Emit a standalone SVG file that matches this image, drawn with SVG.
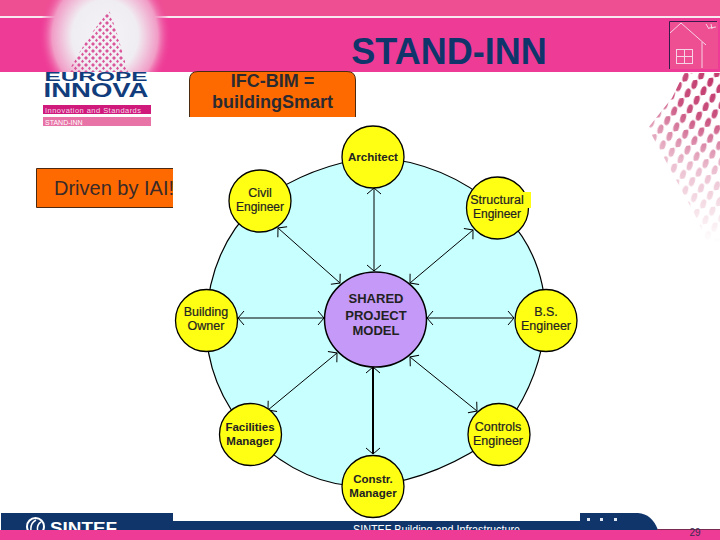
<svg xmlns="http://www.w3.org/2000/svg" width="720" height="540" viewBox="0 0 720 540">
<defs>
<radialGradient id="glow"><stop offset="0" stop-color="#f3f3f6"/><stop offset="0.5" stop-color="#f0edf2"/><stop offset="0.8" stop-color="#f19cc6"/><stop offset="1" stop-color="#ee3c96" stop-opacity="0"/></radialGradient>
<radialGradient id="fadeg" gradientUnits="userSpaceOnUse" cx="712" cy="78" r="165"><stop offset="0" stop-color="#fff"/><stop offset="0.25" stop-color="#ddd"/><stop offset="0.55" stop-color="#555"/><stop offset="1" stop-color="#000"/></radialGradient>
<mask id="fademask" maskUnits="userSpaceOnUse" x="640" y="70" width="80" height="220"><rect x="640" y="70" width="80" height="220" fill="url(#fadeg)"/></mask>
<pattern id="halftone" width="16" height="16" patternUnits="userSpaceOnUse" patternTransform="rotate(-8)"><ellipse cx="4" cy="4" rx="2.800" ry="5" fill="#c2386c" transform="rotate(25 4 4)"/><ellipse cx="12" cy="12" rx="2.800" ry="5" fill="#c2386c" transform="rotate(25 12 12)"/></pattern>
<pattern id="diamonds" width="7" height="7" patternUnits="userSpaceOnUse"><path d="M2 0L4 2L2 4L0 2ZM5.500 3.500L7 5.500L5.500 7L4 5.500Z" fill="#d42f84"/></pattern>
<clipPath id="drivenclip"><rect x="30" y="160" width="143" height="55"/></clipPath>
<clipPath id="footclip"><rect x="0" y="505" width="720" height="25"/></clipPath>
<clipPath id="bannerclip"><rect x="0" y="0" width="720" height="72"/></clipPath>
<marker id="a" markerWidth="10" markerHeight="16" refX="8" refY="8" orient="auto-start-reverse" markerUnits="userSpaceOnUse"><path d="M2 1L8 8L2 15" fill="none" stroke="#000" stroke-width="1"/></marker>
</defs>
<style>
.t{font-family:"Liberation Sans",Arial,sans-serif}
.n{font-family:"Liberation Sans",Arial,sans-serif;font-size:11.500px;font-weight:bold;text-anchor:middle;fill:#222}
.r{font-family:"Liberation Sans",Arial,sans-serif;font-size:12.500px;text-anchor:middle;fill:#222;stroke:#222;stroke-width:.2}
.c{fill:#ffff14;stroke:#000;stroke-width:1.300}
.l{fill:none;stroke:#000;stroke-width:1;marker-start:url(#a);marker-end:url(#a)}
.o{fill:#ff6a00;stroke:#4a2a10;stroke-width:1}
</style>
<rect width="720" height="540" fill="#fff"/>
<g id="banner">
<rect width="720" height="16" fill="#ee4f92"/>
<rect y="16" width="720" height="2" fill="#f8e8f0"/>
<rect y="18" width="720" height="54" fill="#ee3c96"/>
<g clip-path="url(#bannerclip)">
<ellipse cx="105" cy="36" rx="66" ry="72" fill="url(#glow)"/>
</g>
<path d="M109 10L116 30L128 72H68L88 38Z" fill="url(#diamonds)" opacity="0.8"/>
</g>
<text class="t" x="449" y="64" font-size="36" font-weight="bold" fill="#0f356b" text-anchor="middle">STAND-INN</text>
<g id="house" fill="none" stroke="#f5d5e5" stroke-width="1">
<rect x="670" y="22" width="48" height="47" fill="#ee4f92" stroke="none"/>
<path d="M669.500 69V21.500H717" stroke="#3a1a4a"/>
<path d="M670 33L681 23L706 45M702 42V68"/>
<rect x="676.500" y="49.500" width="16" height="14"/><path d="M684.500 50V64M677 56.500H692"/>
<path d="M706 24L709 29M711 24L712 29M716 27L709 28"/>
</g>
<g id="logo">
<text class="t" x="96" y="80.500" font-size="12" font-weight="bold" fill="#123d7c" text-anchor="middle" textLength="103" lengthAdjust="spacingAndGlyphs">EUROPE</text>
<text class="t" x="96" y="97" font-size="20" font-weight="bold" fill="#123d7c" text-anchor="middle" textLength="105" lengthAdjust="spacingAndGlyphs">INNOVA</text>
<rect x="43" y="105" width="108" height="9" fill="#cf1a7c"/>
<text class="t" x="45" y="113" font-size="7.500" fill="#f6d8e8" textLength="96">Innovation and Standards</text>
<rect x="43" y="117" width="108" height="9" fill="#e873a6"/>
<text class="t" x="45" y="125" font-size="7" fill="#fff">STAND-INN</text>
</g>
<g id="dots" mask="url(#fademask)">
<path d="M684 73H720V270L695 215L648 128L672 98Z" fill="url(#halftone)"/>
</g>
<g id="ifc-bim">
<path class="o" d="M189.500 117V80Q189.500 71.500 198 71.500H347Q355.500 71.500 355.500 80V117"/>
<text class="t" x="272.500" y="87" font-size="18" font-weight="bold" fill="#2b2a30" text-anchor="middle">IFC-BIM =</text>
<text class="t" x="272.500" y="108" font-size="18" font-weight="bold" fill="#2b2a30" text-anchor="middle">buildingSmart</text>
</g>
<g id="driven" clip-path="url(#drivenclip)">
<path class="o" d="M180 168.500H36.500V207.500H180"/>
<text class="t" x="54" y="195" font-size="20" fill="#3a2a28">Driven by IAI!</text>
</g>
<g id="ring">
<path d="M373 157Q445 162 497 208Q545 250 546 320Q540 385 499 434Q440 478 373 486Q305 490 250 434Q205 385 206 320Q210 245 260 201Q310 165 373 157Z" fill="#c8ffff" stroke="#000" stroke-width="1.200"/>
</g>
<g id="connectors">
<path class="l" d="M374 188V271"/>
<path class="l" d="M278 228L340 283"/>
<path class="l" d="M473 230L410 283"/>
<path class="l" d="M238 318H324"/>
<path class="l" d="M427 318H514"/>
<path class="l" d="M268 410L337 353"/>
<path class="l" d="M477 411L410 357"/>
<path class="l" style="stroke-width:2" d="M373 367V454"/>
</g>
<g id="shared-project-model">
<ellipse cx="375.500" cy="319.500" rx="51" ry="47.500" fill="#c599f7" stroke="#000" stroke-width="1.500"/>
<text class="t" x="376" y="303" font-size="13" font-weight="bold" fill="#222" text-anchor="middle">SHARED</text>
<text class="t" x="376" y="319.500" font-size="13" font-weight="bold" fill="#222" text-anchor="middle">PROJECT</text>
<text class="t" x="376" y="334.500" font-size="13" font-weight="bold" fill="#222" text-anchor="middle">MODEL</text>
</g>
<g id="architect"><circle class="c" cx="373" cy="157" r="31"/><text class="n" x="373" y="161">Architect</text></g>
<g id="civil-engineer"><circle class="c" cx="260" cy="201" r="31"/><text class="r" x="260" y="197">Civil</text><text class="r" x="260" y="211" style="font-size:12px">Engineer</text></g>
<g id="structural-engineer"><circle class="c" cx="497.500" cy="208" r="31"/><rect x="497" y="192" width="34" height="16" fill="#ffff14"/><text class="r" x="497" y="204">Structural</text><text class="r" x="497" y="218" style="font-size:12px">Engineer</text></g>
<g id="building-owner"><circle class="c" cx="206.500" cy="320.500" r="31"/><text class="r" x="206" y="316">Building</text><text class="r" x="206" y="330">Owner</text></g>
<g id="bs-engineer"><circle class="c" cx="546" cy="320.500" r="31"/><text class="r" x="546" y="316">B.S.</text><text class="r" x="546" y="330">Engineer</text></g>
<g id="facilities-manager"><circle class="c" cx="250.500" cy="434.500" r="31"/><text class="n" x="250" y="431">Facilities</text><text class="n" x="250" y="445">Manager</text></g>
<g id="controls-engineer"><circle class="c" cx="499" cy="434.500" r="31"/><text class="r" x="498" y="431">Controls</text><text class="r" x="498" y="445">Engineer</text></g>
<g id="constr-manager"><circle class="c" cx="373" cy="486.500" r="31"/><text class="n" x="373" y="483">Constr.</text><text class="n" x="373" y="497">Manager</text></g>
<g id="footer">
<rect x="1" y="513" width="172" height="17" fill="#0f356b"/>
<rect x="173" y="521" width="407" height="9" fill="#0f356b"/>
<path d="M580 513H638Q652 514 658 530H580Z" fill="#0f356b"/>
<rect x="587" y="518" width="3" height="3" fill="#dfe8f2"/><rect x="600" y="518" width="3" height="3" fill="#dfe8f2"/><rect x="614" y="518" width="3" height="3" fill="#dfe8f2"/>
<g clip-path="url(#footclip)">
<text class="t" x="50" y="534" font-size="17" font-weight="bold" fill="#fff" textLength="67" lengthAdjust="spacingAndGlyphs">SINTEF</text>
<text class="t" x="353" y="534" font-size="12" fill="#fff" textLength="167" lengthAdjust="spacingAndGlyphs">SINTEF Building and Infrastructure</text>
<circle cx="35.500" cy="526.500" r="8.500" fill="none" stroke="#fff" stroke-width="2"/>
<path d="M31 531Q30 523 36 520M38 532Q36 525 41 522" fill="none" stroke="#fff" stroke-width="1.500"/>
</g>
<rect x="0" y="530" width="720" height="10" fill="#ee3c96"/>
<rect x="657" y="529" width="63" height="1" fill="#7a2a50"/>
<text class="t" x="695" y="536" font-size="10" fill="#3a2a50" text-anchor="middle">29</text>
</g>
</svg>
